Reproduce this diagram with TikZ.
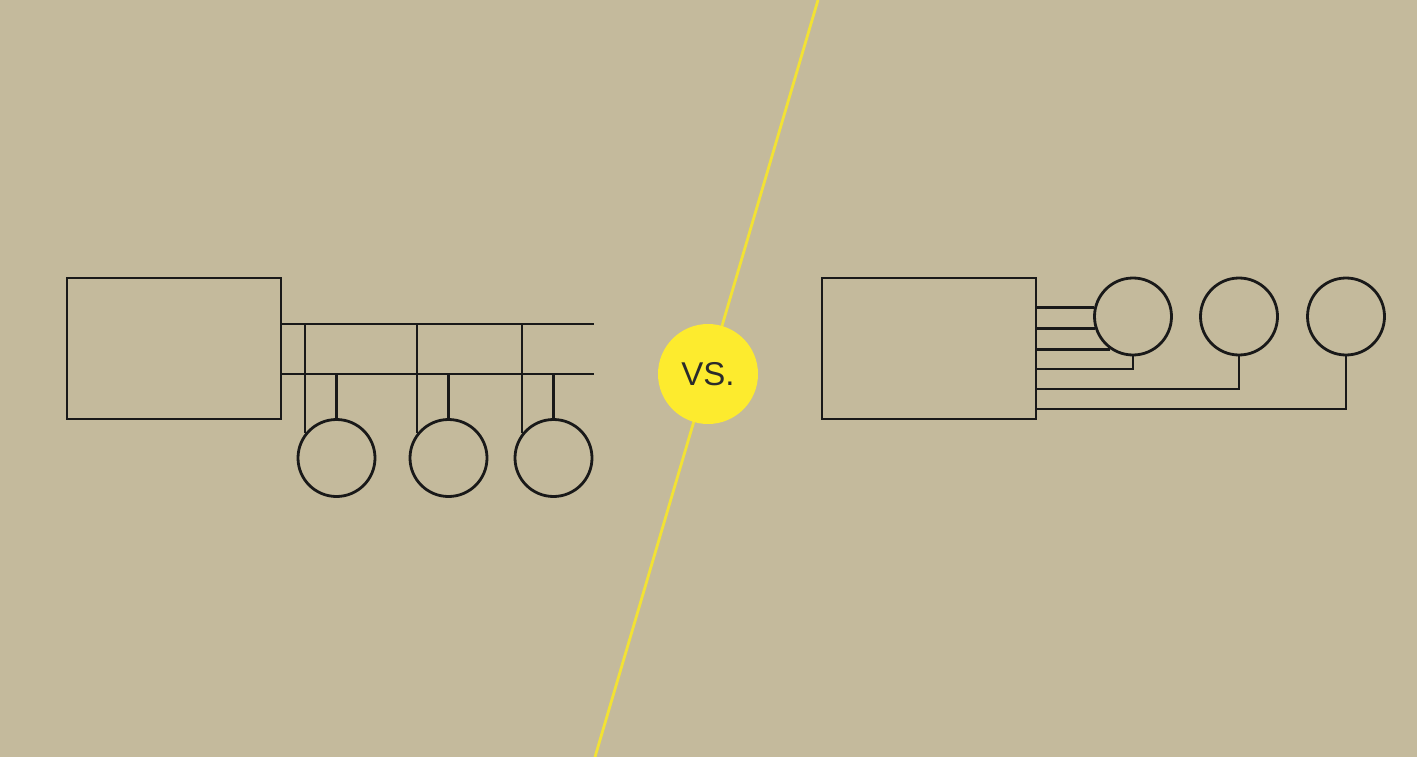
\documentclass[tikz,border=0pt]{standalone}
\usepackage{fontspec}
\newfontfamily\vsfont{Liberation Sans}
\definecolor{bgsand}{HTML}{C4BA9C}
\definecolor{vsyellow}{HTML}{FDEB2E}
\definecolor{slashyellow}{HTML}{F2E234}
\definecolor{inkgrey}{HTML}{2B2B2B}
\tikzset{
    tp box/.style={draw=black!90, line width=2.8pt, minimum width=214pt,
                   minimum height=141pt, inner sep=0pt},
    tp dev/.style={circle, draw=black!90, line width=2.8pt,
                   minimum size=77pt, inner sep=0pt},
    tp wire/.style={black!90, line width=2.8pt},
    tp slash/.style={slashyellow, line width=2.8pt},
    tp vs/.style={circle, fill=vsyellow, minimum size=100pt, inner sep=0pt,
                  text=inkgrey, font=\vsfont\fontsize{33}{33}\selectfont},
}
\begin{document}
\begin{tikzpicture}[x=1pt, y=-1pt]
    % Background
    \fill[bgsand] (0,0) rectangle (1417,757);
    \useasboundingbox (0,0) rectangle (1417,757);
    % Dividing slash
    \coordinate (slashT) at (818,0);
    \coordinate (slashB) at (595,757);
    \draw[tp slash] (slashT) -- (slashB);
    % Bus side
    \node[tp box] (hubL) at (174,348.5) {};
    \coordinate (busT) at (594,324);
    \coordinate (busB) at (594,374);
    \draw[tp wire] (hubL.east |- busT) -- (busT);
    \draw[tp wire] (hubL.east |- busB) -- (busB);
    \foreach \i/\x in {1/336.5, 2/448.5, 3/553.5} {
        \node[tp dev] (dL\i) at (\x,458) {};
        \draw[tp wire] (dL\i.north) -- (dL\i.north |- busB);
        \draw[tp wire] (dL\i.142) -- (dL\i.142 |- busT);
    }
    % Star side
    \node[tp box] (hubR) at (929,348.5) {};
    \foreach \i/\x in {1/1133, 2/1239, 3/1346}
        \node[tp dev] (dR\i) at (\x,316.5) {};
    \draw[tp wire] (dR1.167) -- (dR1.167 -| hubR.east);
    \draw[tp wire] (dR1.197) -- (dR1.197 -| hubR.east);
    \draw[tp wire] (dR1.235) -- (dR1.235 -| hubR.east);
    \draw[tp wire] (dR1.south) |- ([yshift=-20.5pt]hubR.east);
    \draw[tp wire] (dR2.south) |- ([yshift=-40.5pt]hubR.east);
    \draw[tp wire] (dR3.south) |- ([yshift=-60.5pt]hubR.east);
    % Versus badge
    \node[tp vs] (vs) at (708,374) {VS.};
\end{tikzpicture}
\end{document}
